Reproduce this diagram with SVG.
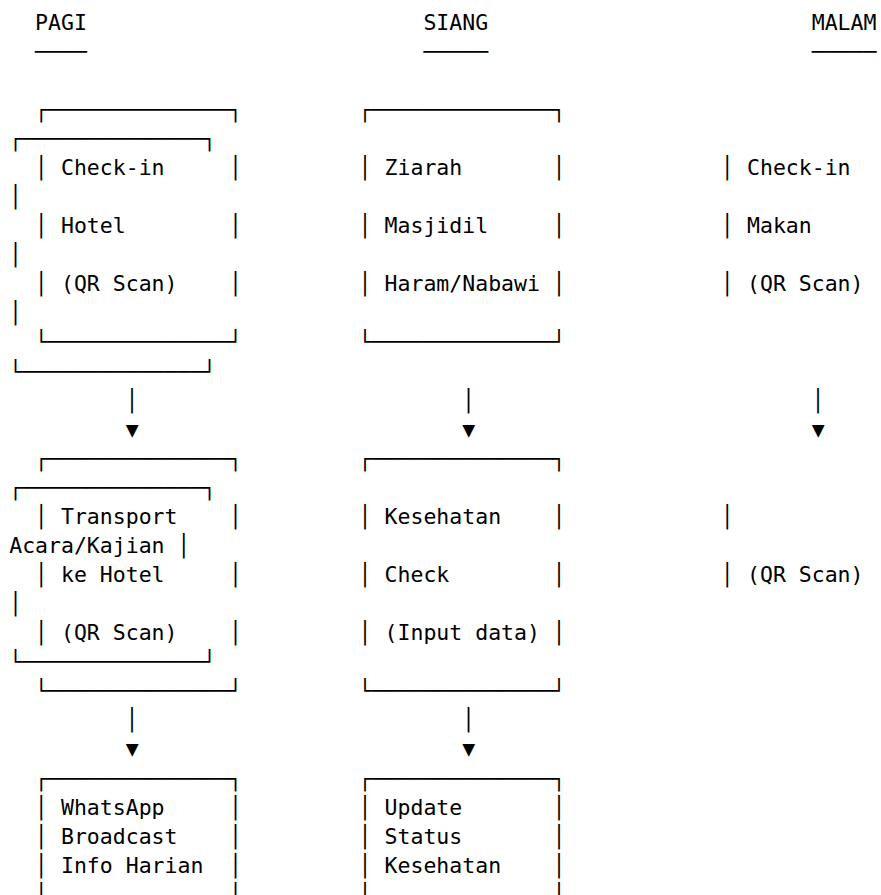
<svg xmlns="http://www.w3.org/2000/svg" width="881" height="895" viewBox="0 0 881 895" xml:space="preserve">
<style>
text { font-family: "DejaVu Sans Mono", "Liberation Mono", monospace; font-size: 21.5px; fill: #000; white-space: pre; }
</style>
<rect width="881" height="895" fill="#fff"/>
<g id="headers">
<text x="35.09" y="29.7">PAGI</text>
<text x="423.41" y="29.7">SIANG</text>
<text x="811.73" y="29.7">MALAM</text>
<text x="35.09" y="58.77">────</text>
<text x="423.41" y="58.77">─────</text>
<text x="811.73" y="58.77">─────</text>
</g>
<g id="pagi-checkin-hotel">
<text x="35.09" y="116.91">┌──────────────┐</text>
<text x="35.09" y="175.05">│ Check-in     │</text>
<text x="35.09" y="233.19">│ Hotel        │</text>
<text x="35.09" y="291.33">│ (QR Scan)    │</text>
<text x="35.09" y="349.47">└──────────────┘</text>
</g>
<g id="siang-ziarah">
<text x="358.69" y="116.91">┌──────────────┐</text>
<text x="358.69" y="175.05">│ Ziarah       │</text>
<text x="358.69" y="233.19">│ Masjidil     │</text>
<text x="358.69" y="291.33">│ Haram/Nabawi │</text>
<text x="358.69" y="349.47">└──────────────┘</text>
</g>
<g id="malam-checkin-makan">
<text x="9.2" y="145.98">┌──────────────┐</text>
<text x="721.12" y="175.05">│ Check-in</text>
<text x="9.2" y="204.12">│</text>
<text x="721.12" y="233.19">│ Makan</text>
<text x="9.2" y="262.26">│</text>
<text x="721.12" y="291.33">│ (QR Scan)</text>
<text x="9.2" y="320.40">│</text>
<text x="9.2" y="378.54">└──────────────┘</text>
</g>
<g id="pagi-transport">
<text x="35.09" y="465.75">┌──────────────┐</text>
<text x="35.09" y="523.89">│ Transport    │</text>
<text x="35.09" y="582.03">│ ke Hotel     │</text>
<text x="35.09" y="640.17">│ (QR Scan)    │</text>
<text x="35.09" y="698.31">└──────────────┘</text>
</g>
<g id="siang-kesehatan">
<text x="358.69" y="465.75">┌──────────────┐</text>
<text x="358.69" y="523.89">│ Kesehatan    │</text>
<text x="358.69" y="582.03">│ Check        │</text>
<text x="358.69" y="640.17">│ (Input data) │</text>
<text x="358.69" y="698.31">└──────────────┘</text>
</g>
<g id="malam-acara">
<text x="9.2" y="494.82">┌──────────────┐</text>
<text x="721.12" y="523.89">│</text>
<text x="9.2" y="552.96">Acara/Kajian │</text>
<text x="721.12" y="582.03">│ (QR Scan)</text>
<text x="9.2" y="611.10">│</text>
<text x="9.2" y="669.24">└──────────────┘</text>
</g>
<g id="pagi-whatsapp">
<text x="35.09" y="785.52">┌──────────────┐</text>
<text x="35.09" y="814.59">│ WhatsApp     │</text>
<text x="35.09" y="843.66">│ Broadcast    │</text>
<text x="35.09" y="872.73">│ Info Harian  │</text>
<text x="35.09" y="901.80">│              │</text>
</g>
<g id="siang-update">
<text x="358.69" y="785.52">┌──────────────┐</text>
<text x="358.69" y="814.59">│ Update       │</text>
<text x="358.69" y="843.66">│ Status       │</text>
<text x="358.69" y="872.73">│ Kesehatan    │</text>
<text x="358.69" y="901.80">│              │</text>
</g>
<g id="connectors">
<text x="125.70" y="407.61">│</text>
<text x="125.70" y="436.68">▼</text>
<text x="462.24" y="407.61">│</text>
<text x="462.24" y="436.68">▼</text>
<text x="811.73" y="407.61">│</text>
<text x="811.73" y="436.68">▼</text>
<text x="125.70" y="727.38">│</text>
<text x="125.70" y="756.45">▼</text>
<text x="462.24" y="727.38">│</text>
<text x="462.24" y="756.45">▼</text>
</g>
</svg>
